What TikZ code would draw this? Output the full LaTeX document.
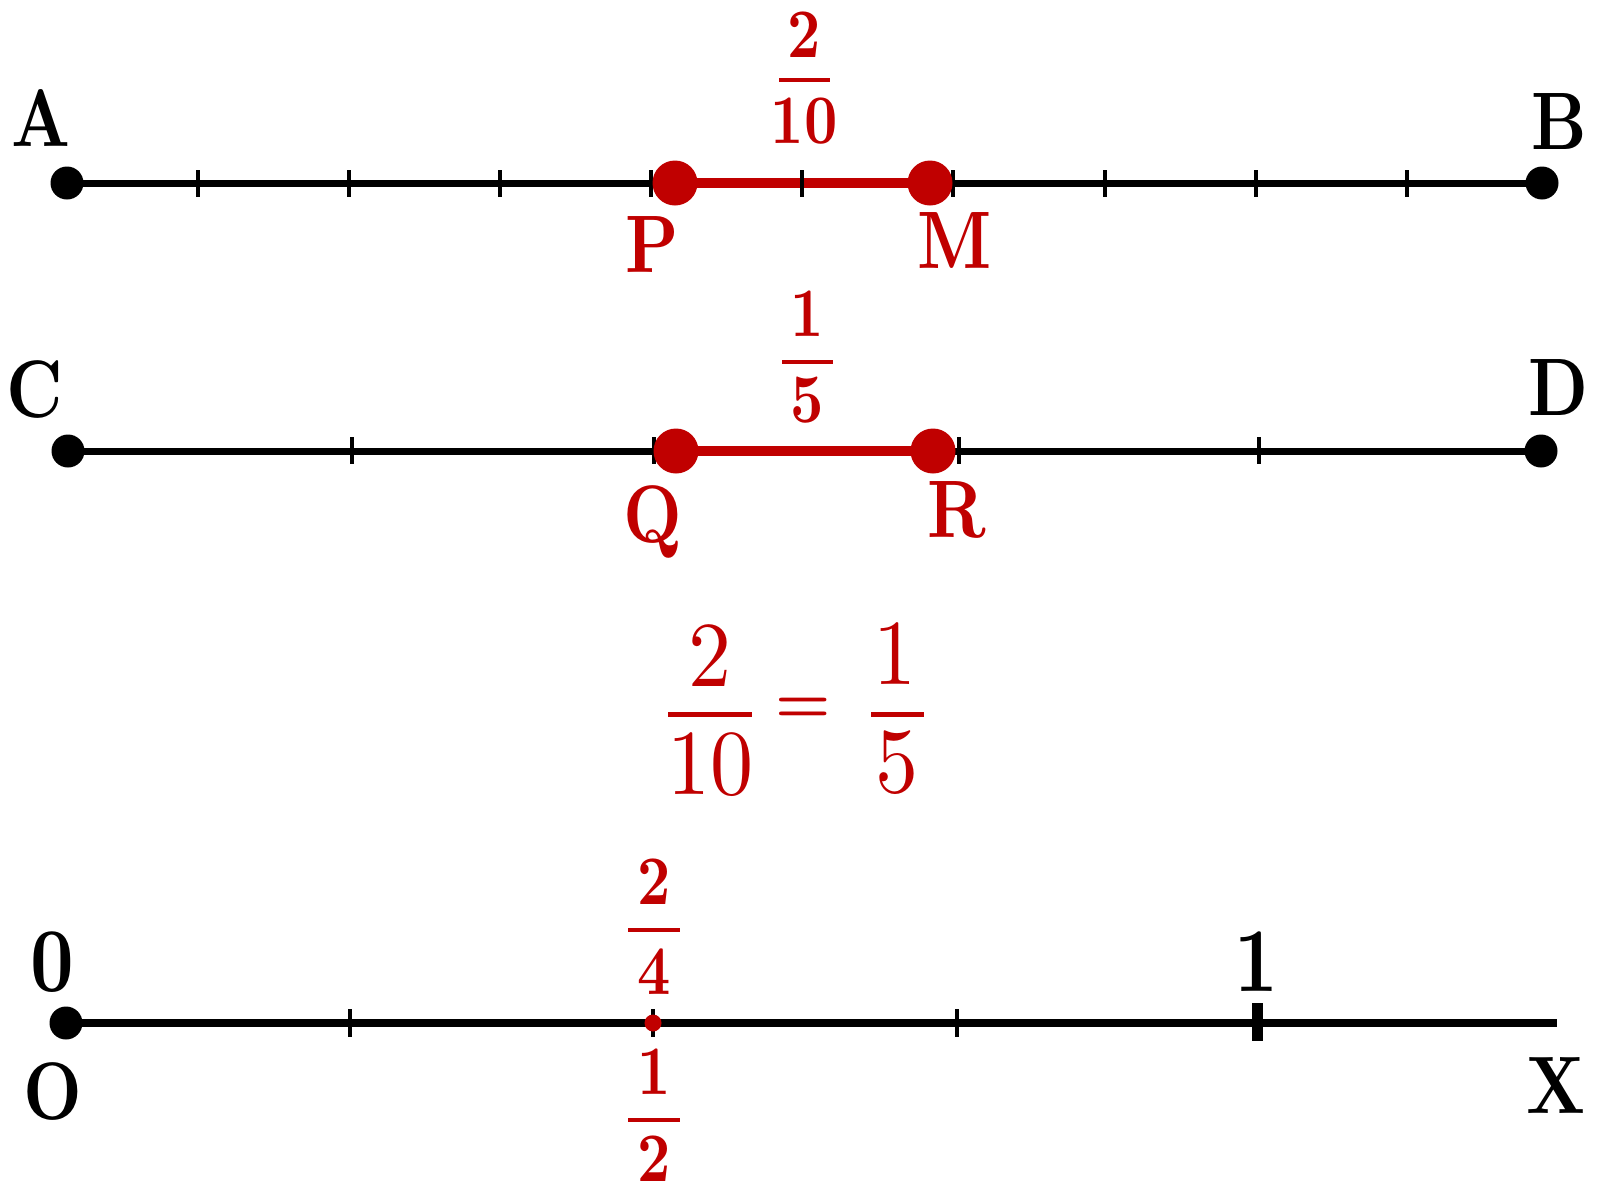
\documentclass[tikz,border=0pt]{standalone}
\usepackage{fontspec}
\newfontfamily\lmbold{lmroman10-bold.otf}
\newfontfamily\lmreg{lmroman10-regular.otf}
\definecolor{myred}{RGB}{192,0,0}
\newcommand\vstr[1]{\scalebox{1}[1.2]{#1}}
\newcommand\vstrb[1]{\scalebox{1}[1.08]{#1}}
\tikzset{
  axisline/.style={line width=7pt},
  tickmark/.style={line width=4.5pt},
  seg/.style={line width=10pt, draw=myred},
  bdot/.style={circle, fill=black, inner sep=0pt, minimum size=33pt},
  rdot/.style={circle, fill=myred, inner sep=0pt, minimum size=45pt},
  sdot/.style={circle, fill=myred, inner sep=0pt, minimum size=17pt},
  lbl/.style={inner sep=0pt, font=\lmbold\fontsize{68}{80}\selectfont},
  dig/.style={inner sep=0pt, font=\lmbold\fontsize{76}{90}\selectfont},
  fnum/.style={inner sep=0pt, text=myred, font=\lmbold\fontsize{58}{70}\selectfont},
  fbar/.style={line width=4pt, draw=myred},
  bignum/.style={inner sep=0pt, text=myred, font=\lmreg\fontsize{86}{100}\selectfont},
  bigbar/.style={line width=5pt, draw=myred},
}
\begin{document}
\begin{tikzpicture}[x=1pt,y=-1pt]
\useasboundingbox (0,0) rectangle (1598,1186);

% ---------- line 1: A--B ----------
\coordinate (a) at (67,183);
\coordinate (b) at (1542,183);
\coordinate (p) at (675,183);
\coordinate (m) at (930,183);
\draw[axisline] (a) -- (b);
\draw[seg] (p) -- (m);
\foreach \x in {198,349,500,651,802,953,1105,1256,1407}
  \draw[tickmark] (\x,170) -- (\x,197);
\node[bdot] (Adot) at (a) {};
\node[bdot] (Bdot) at (b) {};
\node[rdot] (Pdot) at (p) {};
\node[rdot] (Mdot) at (m) {};
\node[lbl] (A) at (41,118) {\vstr{A}};
\node[lbl] (B) at (1559,122) {\vstr{B}};
\node[lbl, text=myred] (P) at (652,245) {\vstr{P}};
\node[lbl, text=myred] (M) at (955,241) {\vstr{M}};
\node[fnum] (f1n) at (804,35) {\vstr{2}};
\node[fnum] (f1d) at (804,121) {\vstr{10}};
\coordinate (f1l) at (779,80);
\coordinate (f1r) at (830,80);
\draw[fbar] (f1l) -- (f1r);

% ---------- line 2: C--D ----------
\coordinate (c) at (68,451);
\coordinate (d) at (1541,451);
\coordinate (q) at (676,451);
\coordinate (r) at (933,451);
\draw[axisline] (c) -- (d);
\draw[seg] (q) -- (r);
\foreach \x in {352,654,959,1259}
  \draw[tickmark] (\x,437) -- (\x,464);
\node[bdot] (Cdot) at (c) {};
\node[bdot] (Ddot) at (d) {};
\node[rdot] (Qdot) at (q) {};
\node[rdot] (Rdot) at (r) {};
\node[lbl] (C) at (35,390) {\vstr{C}};
\node[lbl] (D) at (1558,388) {\vstr{D}};
\node[lbl, text=myred, anchor=base] (Q) at (653,542) {\vstr{Q}};
\node[lbl, text=myred] (R) at (957,510) {\vstr{R}};
\node[fnum] (f2n) at (807,314) {\vstr{1}};
\node[fnum] (f2d) at (807,400) {\vstr{5}};
\coordinate (f2l) at (782,362);
\coordinate (f2r) at (833,362);
\draw[fbar] (f2l) -- (f2r);

% ---------- equation ----------
\node[bignum] (e1n) at (710,656) {\vstrb{2}};
\node[bignum] (e1d) at (710,765) {\vstrb{10}};
\coordinate (e1l) at (668,714);
\coordinate (e1r) at (752,714);
\draw[bigbar] (e1l) -- (e1r);
\node[inner sep=0pt, text=myred, font=\lmbold\fontsize{62}{70}\selectfont] (eq) at (803,710) {=};
\node[bignum] (e2n) at (895,654) {\vstrb{1}};
\node[bignum] (e2d) at (897,763) {\vstrb{5}};
\coordinate (e2l) at (871,714);
\coordinate (e2r) at (924,714);
\draw[bigbar] (e2l) -- (e2r);

% ---------- line 3: O--X ----------
\coordinate (o) at (66,1023);
\coordinate (xend) at (1557,1023);
\coordinate (half) at (653,1023);
\draw[line width=8pt] (o) -- (xend);
\foreach \x in {350,653,957}
  \draw[tickmark] (\x,1009) -- (\x,1037);
\draw[line width=11pt] (1257,1003) -- (1257,1041);
\node[bdot] (Odot) at (o) {};
\node[sdot] (Hdot) at (half) {};
\node[dig] (zero) at (52,962) {\vstr{0}};
\node[dig] (one) at (1256,962) {\vstr{1}};
\node[lbl] (O) at (53,1091) {\vstr{O}};
\node[lbl] (X) at (1556,1085) {\vstr{X}};
\node[fnum] (f3n) at (654,882) {\vstr{2}};
\node[fnum] (f3d) at (654,972) {\vstr{4}};
\coordinate (f3l) at (628,930);
\coordinate (f3r) at (680,930);
\draw[fbar] (f3l) -- (f3r);
\node[fnum] (f4n) at (654,1072) {\vstr{1}};
\node[fnum] (f4d) at (654,1159) {\vstr{2}};
\coordinate (f4l) at (628,1120);
\coordinate (f4r) at (680,1120);
\draw[fbar] (f4l) -- (f4r);
\end{tikzpicture}
\end{document}
